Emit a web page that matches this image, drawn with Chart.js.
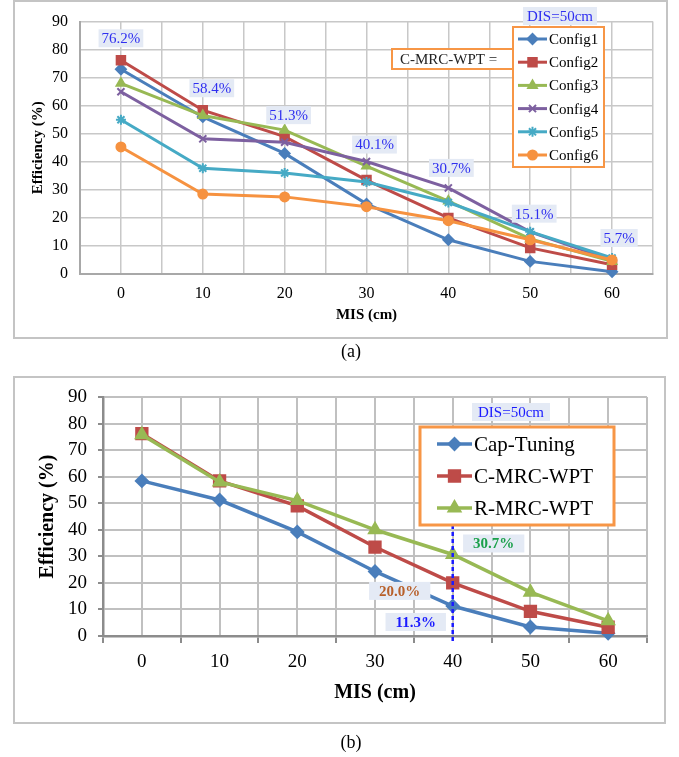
<!DOCTYPE html>
<html>
<head>
<meta charset="utf-8">
<script src="https://cdn.jsdelivr.net/npm/chart.js@4.4.1/dist/chart.umd.min.js"></script>
<style>
  body { margin: 0; background: #fff; width: 679px; height: 757px; position: relative; overflow: hidden; font-family: "Liberation Serif", serif; }
  .frame { position: absolute; box-sizing: border-box; border: 2px solid #c4c4c4; }
  .cap { position: absolute; width: 60px; text-align: center; font-size: 18px; line-height: 18px; }
  canvas { position: absolute; left: 0; }
</style>
</head>
<body>
<div class="frame" style="left:13px;top:0;width:655px;height:339px"></div>
<canvas id="chartA" width="679" height="345" style="top:0"></canvas>
<div class="cap" style="left:321px;top:342px">(a)</div>

<div class="frame" style="left:13px;top:376px;width:653px;height:348px"></div>
<canvas id="chartB" width="679" height="380" style="top:360px"></canvas>
<div class="cap" style="left:321px;top:733px">(b)</div>

<script>
const misCm = [0, 10, 20, 30, 40, 50, 60];
const yTicks = [0, 10, 20, 30, 40, 50, 60, 70, 80, 90];

// (a) C-MRC-WPT configurations
const config1 = [73, 56, 43, 25, 12.2, 4.5, 0.8];
const config2 = [76.2, 58.4, 49, 33.5, 20, 9.3, 3.3];
const config3 = [68, 56.5, 51.3, 38.5, 26, 12.5, 4.5];
const config4 = [65, 48.2, 47, 40.1, 30.7, 15, 5];
const config5 = [55, 37.7, 36, 32.8, 25.5, 15.1, 5.7];
const config6 = [45.3, 28.5, 27.5, 24, 19, 12.2, 5];

// (b) comparison
const capTuning = [58.4, 51.2, 39.2, 24.3, 11.3, 3.4, 1.0];
const cMrcWpt = [76.2, 58.4, 49, 33.5, 20, 9.3, 3.3];
const rMrcWpt = [75.8, 58, 51, 40, 30.7, 16.5, 5.7];

const SERIF = '"Liberation Serif", serif';
Chart.defaults.font.family = SERIF;
Chart.defaults.color = '#000';

const BLUE = '#4a7ebb', RED = '#be4b48', GREEN = '#98b954', PURPLE = '#7d60a0', CYAN = '#46aac5', ORANGE = '#f69240';

function points(values) {
    return misCm.map((x, i) => ({ x: x, y: values[i] }));
}

// later series sit on top, like the spreadsheet original
function series(idx, label, values, color, style, radius, lineWidth) {
    return {
        label: label,
        data: points(values),
        order: 10 - idx,
        borderColor: color,
        backgroundColor: color,
        pointBackgroundColor: color,
        pointBorderColor: color,
        pointStyle: style,
        pointRadius: radius,
        pointBorderWidth: 2,
        borderWidth: lineWidth,
        tension: 0,
        clip: false
    };
}

function xTickLabel(v) {
    return misCm.includes(v) ? String(v) : '';
}

function tag(ctx, text, cx, cy, font, color, bg, padX) {
    ctx.font = font;
    const w = ctx.measureText(text).width + padX * 2;
    const h = parseInt(font.match(/(\d+)px/)[1], 10) + 3;
    ctx.fillStyle = bg;
    ctx.fillRect(cx - w / 2, cy - h / 2, w, h);
    ctx.fillStyle = color;
    ctx.textAlign = 'center';
    ctx.textBaseline = 'middle';
    ctx.fillText(text, cx, cy + 1);
}

function boxLegend(opts) {
    return {
        id: 'boxLegend',
        afterDraw(chart) {
            const ctx = chart.ctx;
            ctx.save();
            ctx.fillStyle = '#fff';
            ctx.fillRect(opts.left, opts.top, opts.width, opts.height);
            ctx.strokeStyle = '#f79646';
            ctx.lineWidth = opts.border;
            ctx.strokeRect(opts.left, opts.top, opts.width, opts.height);
            chart.data.datasets.forEach((ds, i) => {
                const y = opts.top + opts.firstRow + i * opts.rowGap;
                const x0 = opts.left + opts.lineStart;
                const x1 = x0 + opts.lineLen;
                ctx.strokeStyle = ds.borderColor;
                ctx.lineWidth = ds.borderWidth;
                ctx.beginPath();
                ctx.moveTo(x0, y);
                ctx.lineTo(x1, y);
                ctx.stroke();
                ctx.fillStyle = ds.pointBackgroundColor;
                ctx.lineWidth = ds.pointBorderWidth;
                Chart.helpers.drawPoint(ctx, {
                    pointStyle: ds.pointStyle,
                    radius: ds.pointRadius,
                    borderWidth: ds.pointBorderWidth,
                    rotation: 0
                }, (x0 + x1) / 2, y);
                ctx.fillStyle = '#000';
                ctx.font = opts.fontSize + 'px ' + SERIF;
                ctx.textAlign = 'left';
                ctx.textBaseline = 'middle';
                ctx.fillText(ds.label, x1 + 2, y + 1);
            });
            ctx.restore();
        }
    };
}

// ---------- chart (a) ----------
const configs = [config1, config2, config3, config4, config5, config6];
const peakOffsets = [[0, -22], [9, -22], [4, -15], [8, -17], [3, -20], [4, -18], [7, -20]];

const chartAExtras = {
    id: 'chartAExtras',
    afterDatasetsDraw(chart) {
        const { ctx, scales: { x, y } } = chart;
        ctx.save();
        misCm.forEach((m, i) => {
            const peak = Math.max(...configs.map(c => c[i]));
            const px = x.getPixelForValue(m) + peakOffsets[i][0];
            const py = y.getPixelForValue(peak) + peakOffsets[i][1];
            tag(ctx, peak.toFixed(1) + '%', px, py, '15px ' + SERIF, '#2f2ff0', '#e4eaf5', 3);
        });
        tag(ctx, 'DIS=50cm', 560, 16, '15px ' + SERIF, '#2f2ff0', '#e4eaf5', 4);
        // label box joined to the legend
        ctx.fillStyle = '#fff';
        ctx.fillRect(392, 49, 121, 20);
        ctx.strokeStyle = '#f79646';
        ctx.lineWidth = 2;
        ctx.strokeRect(392, 49, 121, 20);
        ctx.fillStyle = '#222';
        ctx.font = '15px ' + SERIF;
        ctx.textAlign = 'left';
        ctx.textBaseline = 'middle';
        ctx.fillText('C-MRC-WPT =', 400, 60);
        ctx.restore();
    }
};

new Chart(document.getElementById('chartA').getContext('2d'), {
    type: 'line',
    data: {
        datasets: [
            series(0, 'Config1', config1, BLUE, 'rectRot', 5, 3),
            series(1, 'Config2', config2, RED, 'rect', 6, 3),
            series(2, 'Config3', config3, GREEN, 'triangle', 5, 3),
            series(3, 'Config4', config4, PURPLE, 'crossRot', 5, 3),
            series(4, 'Config5', config5, CYAN, 'star', 5, 3),
            series(5, 'Config6', config6, ORANGE, 'circle', 4.5, 3)
        ]
    },
    options: {
        responsive: false,
        animation: false,
        layout: { padding: { left: 0, top: 16, right: 26, bottom: 0 } },
        plugins: { legend: { display: false }, tooltip: { enabled: false } },
        scales: {
            x: {
                type: 'linear',
                min: -5,
                max: 65,
                afterFit: s => { s.height = 71; },
                ticks: { stepSize: 5, autoSkip: false, maxRotation: 0, padding: 10, font: { size: 16 }, callback: xTickLabel },
                grid: { color: '#c8c8c8', lineWidth: 1.5, drawTicks: false },
                border: { color: '#a8a8a8', width: 2 },
                title: { display: true, text: 'MIS (cm)', font: { size: 15, weight: 'bold' }, padding: { top: 0, bottom: 21 } }
            },
            y: {
                min: 0,
                max: 90,
                afterFit: s => { s.width = 80; },
                afterBuildTicks: s => { s.ticks = yTicks.map(v => ({ value: v })); },
                ticks: { padding: 12, font: { size: 16 } },
                grid: { color: '#c8c8c8', lineWidth: 1.5, drawTicks: false },
                border: { color: '#a8a8a8', width: 2 },
                title: { display: true, text: 'Efficiency (%)', font: { size: 15, weight: 'bold' }, padding: { top: 29, bottom: 0 } }
            }
        }
    },
    plugins: [chartAExtras, boxLegend({ left: 513, top: 27, width: 91, height: 140, border: 2, firstRow: 12, rowGap: 23.2, lineStart: 5, lineLen: 29, fontSize: 15 })]
});

// ---------- chart (b) ----------
const chartBExtras = {
    id: 'chartBExtras',
    afterDatasetsDraw(chart) {
        const { ctx, scales: { x, y }, chartArea } = chart;
        ctx.save();
        const x40 = x.getPixelForValue(misCm[4]);
        ctx.strokeStyle = '#1a1aff';
        ctx.lineWidth = 2.5;
        ctx.setLineDash([4, 3]);
        ctx.beginPath();
        ctx.moveTo(x40, 165);
        ctx.lineTo(x40, chartArea.bottom + 6);
        ctx.stroke();
        ctx.setLineDash([]);
        const font = 'bold 15px ' + SERIF;
        tag(ctx, rMrcWpt[4].toFixed(1) + '%', x40 + 41, y.getPixelForValue(rMrcWpt[4]) - 11, font, '#1aa04a', '#e4eaf5', 10);
        tag(ctx, cMrcWpt[4].toFixed(1) + '%', x40 - 53, y.getPixelForValue(cMrcWpt[4]) + 8, font, '#b8602a', '#e4eaf5', 10);
        tag(ctx, capTuning[4].toFixed(1) + '%', x40 - 37, y.getPixelForValue(capTuning[4]) + 16, font, '#1a1aff', '#e4eaf5', 10);
        tag(ctx, 'DIS=50cm', 511, 52, '15px ' + SERIF, '#1a1aff', '#e4eaf5', 6);
        ctx.restore();
    }
};

new Chart(document.getElementById('chartB').getContext('2d'), {
    type: 'line',
    data: {
        datasets: [
            series(0, 'Cap-Tuning', capTuning, BLUE, 'rectRot', 6, 3.5),
            series(1, 'C-MRC-WPT', cMrcWpt, RED, 'rect', 8, 3.5),
            series(2, 'R-MRC-WPT', rMrcWpt, GREEN, 'triangle', 7, 3.5)
        ]
    },
    options: {
        responsive: false,
        animation: false,
        layout: { padding: { left: 0, top: 37, right: 32, bottom: 0 } },
        plugins: { legend: { display: false }, tooltip: { enabled: false } },
        scales: {
            x: {
                type: 'linear',
                min: -5,
                max: 65,
                afterFit: s => { s.height = 104; },
                ticks: { stepSize: 5, autoSkip: false, maxRotation: 0, padding: 8, font: { size: 19 }, callback: xTickLabel },
                grid: {
                    color: '#c0c0c0',
                    lineWidth: 2,
                    tickLength: 7,
                    tickColor: c => (c.tick && misCm.includes(c.tick.value)) ? 'rgba(0,0,0,0)' : '#8c8c8c'
                },
                border: { color: '#8c8c8c', width: 2.5 },
                title: { display: true, text: 'MIS (cm)', font: { size: 20, weight: 'bold' }, padding: { top: 0, bottom: 35 } }
            },
            y: {
                min: 0,
                max: 90,
                afterFit: s => { s.width = 103; },
                afterBuildTicks: s => { s.ticks = yTicks.map(v => ({ value: v })); },
                ticks: { padding: 11, font: { size: 19 } },
                grid: { color: '#c0c0c0', lineWidth: 2, tickLength: 5, tickColor: '#8c8c8c' },
                border: { color: '#8c8c8c', width: 2.5 },
                title: { display: true, text: 'Efficiency (%)', font: { size: 20, weight: 'bold' }, padding: { top: 36, bottom: 0 } }
            }
        }
    },
    plugins: [chartBExtras, boxLegend({ left: 420, top: 67, width: 194, height: 98, border: 3, firstRow: 17, rowGap: 32, lineStart: 17, lineLen: 35, fontSize: 21 })]
});
</script>
</body>
</html>
